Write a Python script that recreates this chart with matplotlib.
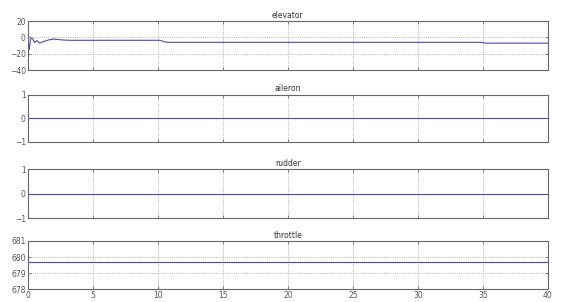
import numpy as np
import matplotlib.pyplot as plt

# elevator deflection
elev_t = [0.0, 0.1, 0.2, 0.35, 0.5, 0.7, 0.9, 1.2, 1.6, 2.0, 2.6, 3.2, 10.2, 10.5, 10.8, 34.9, 35.2, 40.0]
elev_v = [0.0, -15.0, -2.0, -1.0, -6.0, -4.0, -7.0, -5.0, -3.0, -2.0, -3.0, -3.5, -3.5, -5.5, -6.0, -6.0, -7.0, -7.0]

aileron_t = [0.0, 40.0]
aileron_v = [0.0, 0.0]
rudder_t = [0.0, 40.0]
rudder_v = [0.0, 0.0]
throttle_t = [0.0, 40.0]
throttle_v = [679.7, 679.7]

titles = ["elevator", "aileron", "rudder", "throttle"]
ylims = [(-40, 20), (-1, 1), (-1, 1), (678, 681)]
yticks = [[-40, -20, 0, 20], [-1, 0, 1], [-1, 0, 1], [678, 679, 680, 681]]
xticks = [0, 5, 10, 15, 20, 25, 30, 35, 40]

series = [(elev_t, elev_v), (aileron_t, aileron_v), (rudder_t, rudder_v), (throttle_t, throttle_v)]
# [bottom, height] of each panel in figure fractions
boxes = [(0.768, 0.162), (0.530, 0.156), (0.278, 0.162), (0.043, 0.159)]

fig = plt.figure(figsize=(5.7, 3.02), dpi=100)
for i, (title, (t, v)) in enumerate(zip(titles, series)):
    b, h = boxes[i]
    ax = fig.add_axes([0.049, b, 0.912, h])
    ax.plot(t, v, color="#4848c0", linewidth=0.8)
    ax.set_xlim(0, 40)
    ax.set_ylim(*ylims[i])
    ax.set_xticks(xticks)
    ax.set_yticks(yticks[i])
    ax.grid(True, linestyle=":", color="#9a9ab0", linewidth=0.6)
    ax.tick_params(labelsize=5.5, length=2, width=0.5, direction="in",
                   colors="#555555", top=True, right=True, pad=1.5)
    if i < 3:
        ax.set_xticklabels([])
    for s in ax.spines.values():
        s.set_color("#666666")
        s.set_linewidth(0.8)
    ax.set_title(title, fontsize=5.5, pad=2.5, color="#333333")

fig.savefig("out.png", dpi=100)
